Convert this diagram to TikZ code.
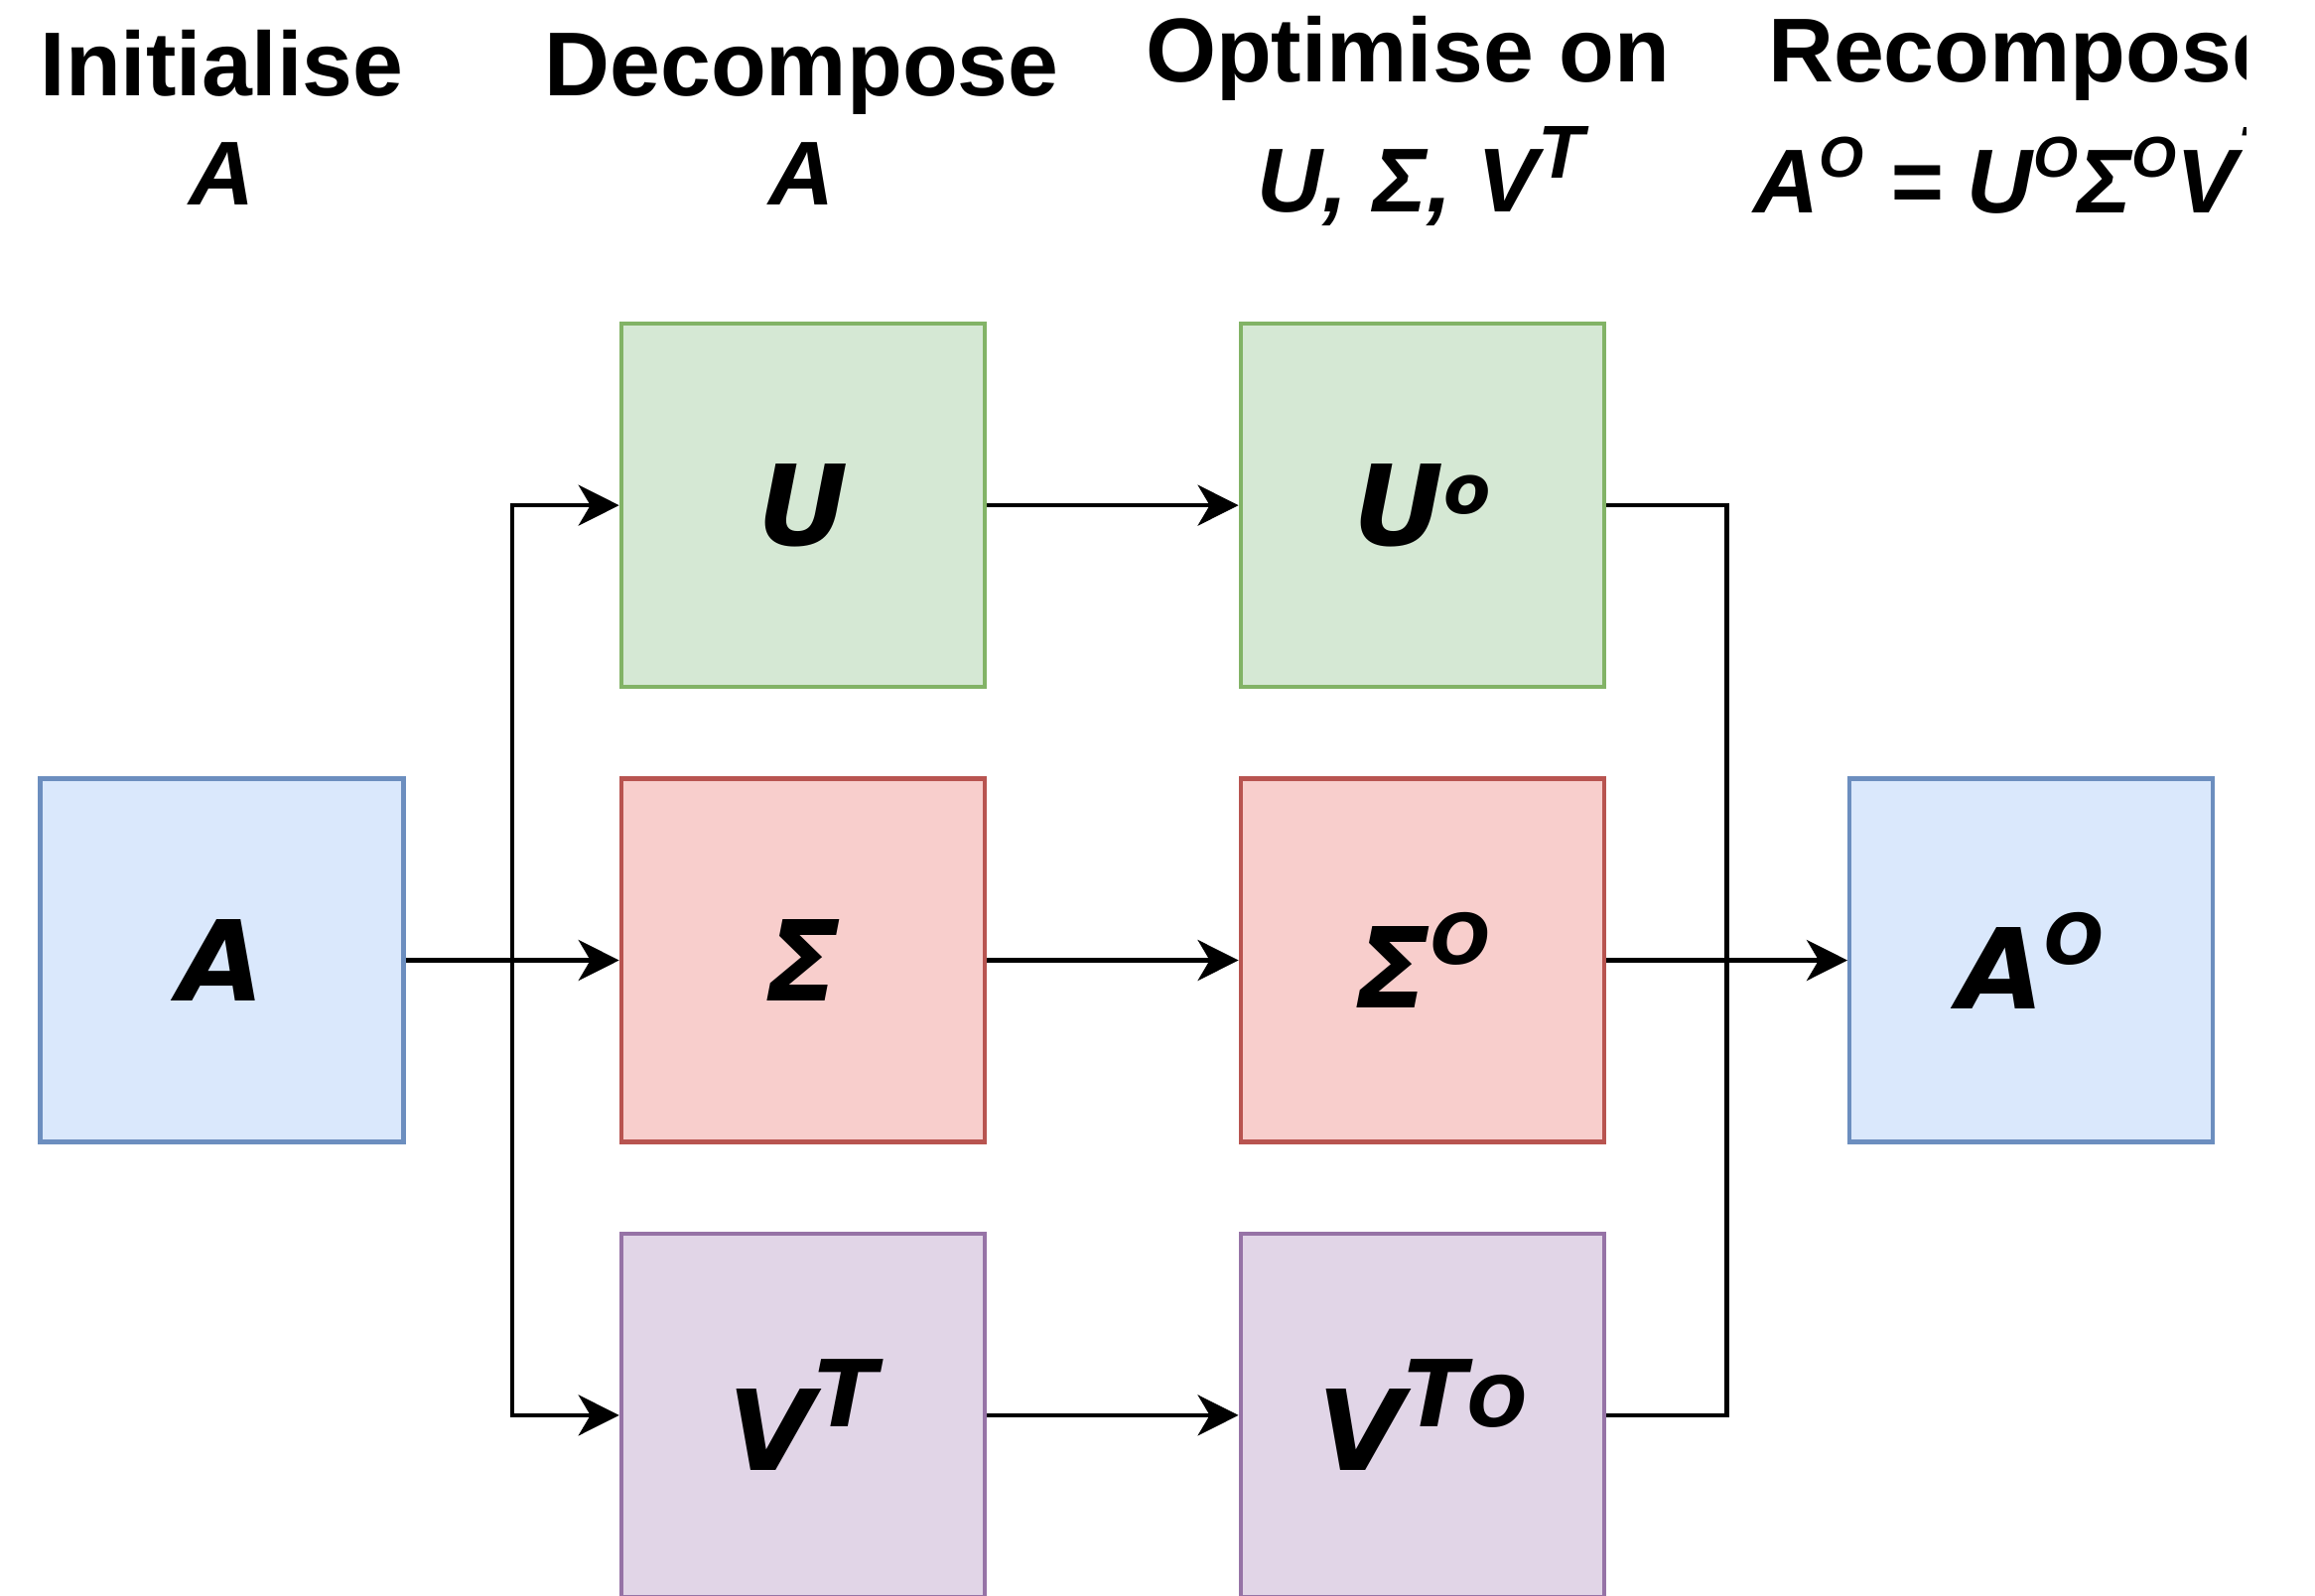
\documentclass[tikz,border=0pt]{standalone}
\usepackage{fontspec}
\setmainfont{Liberation Sans}
\newfontfamily\boxfont{DejaVu Sans}
\usetikzlibrary{positioning,calc,arrows.meta}

\definecolor{fillblue}{HTML}{DAE8FC}
\definecolor{lineblue}{HTML}{6C8EBF}
\definecolor{fillgreen}{HTML}{D5E8D4}
\definecolor{linegreen}{HTML}{82B366}
\definecolor{fillred}{HTML}{F8CECC}
\definecolor{linered}{HTML}{B85450}
\definecolor{fillpurple}{HTML}{E1D5E7}
\definecolor{linepurple}{HTML}{9673A6}

\newcommand{\lbl}[1]{{\boxfont\bfseries\itshape\fontsize{32pt}{32pt}\selectfont #1}}
\newcommand{\hd}[1]{{\bfseries\fontsize{26pt}{26pt}\selectfont #1}}
\newcommand{\hdm}[1]{{\bfseries\itshape\fontsize{26pt}{26pt}\selectfont #1}}
\newcommand{\expo}[3]{\raisebox{#1}{\fontsize{#2}{#2}\selectfont #3}}

\tikzset{
  box/.style={draw, minimum size=3.66cm, inner sep=0pt, line width=1.25pt},
  bluebox/.style={box, fill=fillblue, draw=lineblue},
  greenbox/.style={box, fill=fillgreen, draw=linegreen},
  redbox/.style={box, fill=fillred, draw=linered},
  purplebox/.style={box, fill=fillpurple, draw=linepurple},
  wire/.style={line width=1.25pt},
  arr/.style={wire, -{Stealth[length=0.41cm, width=0.41cm, inset=0.12cm]}},
  head/.style={anchor=base, inner sep=0pt}
}

\begin{document}
\begin{tikzpicture}
  \useasboundingbox (0,0) rectangle (23.32,-16.07);

  \begin{scope}
    \clip (0,0) rectangle (22.62,-3);
    \node[head] (hInit) at (2.235,-0.96) {\hd{Initialise}};
    \node[head] (hInitA) at (2.235,-2.06) {\hdm{A}};
    \node[head] (hDec) at (8.075,-0.96) {\hd{Decompose}};
    \node[head] (hDecA) at (8.075,-2.06) {\hdm{A}};
    \node[head] (hOpt) at (14.18,-0.82) {\hd{Optimise on}};
    \node[head] (hOptB) at (14.31,-2.13) {\hdm{U, Σ, V\expo{0.34cm}{21.5pt}{T}}};
    \node[head] (hRec) at (20.40,-0.82) {\hd{Recompose}};
    \node[head] (hRecB) at (20.33,-2.14)
      {\hdm{A\expo{0.36cm}{16.5pt}{O} = U\expo{0.36cm}{16.5pt}{O}Σ\expo{0.36cm}{16.5pt}{O}V\expo{0.34cm}{21.5pt}{T}}};
  \end{scope}

  \node[bluebox] (A) at (2.235,-9.675) {\lbl{A}};
  \node[redbox, right=2.15 of A] (S) {\lbl{Σ}};
  \node[greenbox, above=0.88 of S] (U) {\lbl{U}};
  \node[purplebox, below=0.88 of S] (V) {\lbl{V\expo{0.44cm}{26.5pt}{T}}};

  \node[redbox, right=2.535 of S] (So) {\lbl{Σ\expo{0.44cm}{20pt}{O}}};
  \node[greenbox, above=0.88 of So] (Uo) {\lbl{U\expo{0.32cm}{19.6pt}{o}}};
  \node[purplebox, below=0.88 of So] (Vo) {\lbl{V\expo{0.44cm}{26.5pt}{T}\expo{0.44cm}{20pt}{O}}};

  \node[bluebox, right=2.43 of So] (Ao) {\lbl{A\expo{0.45cm}{20pt}{O}}};

  \coordinate (split) at ($(A.east)!0.5!(S.west)$);
  \coordinate (join) at ($(So.east)!0.5!(Ao.west)$);

  \draw[arr] (A) -- (S);
  \draw[arr] (split) |- (U);
  \draw[arr] (split) |- (V);

  \draw[arr] (U) -- (Uo);
  \draw[arr] (S) -- (So);
  \draw[arr] (V) -- (Vo);

  \draw[wire] (Uo.east) -| (join);
  \draw[wire] (Vo.east) -| (join);
  \draw[arr] (So) -- (Ao);
\end{tikzpicture}
\end{document}
